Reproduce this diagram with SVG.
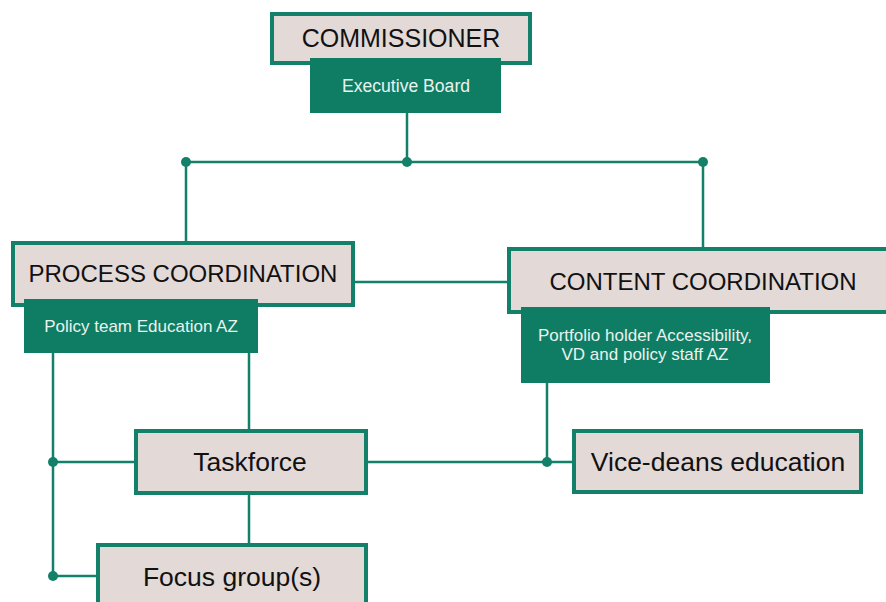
<svg xmlns="http://www.w3.org/2000/svg" width="886" height="602" viewBox="0 0 886 602">
<style>
.box{fill:#e3d9d7;stroke:#138069;stroke-width:4}
.sub{fill:#0e7d64}
.big{font-family:"Liberation Sans",Arial,sans-serif;font-size:24px;fill:#111;text-anchor:middle}
.mid{font-family:"Liberation Sans",Arial,sans-serif;font-size:26.5px;fill:#111;text-anchor:middle}
.small{font-family:"Liberation Sans",Arial,sans-serif;font-size:17px;fill:#eaf2ee;text-anchor:middle}
.ln{stroke:#138069;stroke-width:2.5;fill:none}
.dot{fill:#138069}
</style>
<rect width="886" height="602" fill="#ffffff"/>
<g id="connectors">
<path class="ln" d="M407 113V162M186 162H703M186 162V242M703 162V248"/>
<path class="ln" d="M354 282H509"/>
<path class="ln" d="M53 353V576M53 462H134M53 576H96"/>
<path class="ln" d="M249 353V429M249 495V544"/>
<path class="ln" d="M547 383V462M367 462H573"/>
<circle class="dot" cx="186" cy="162" r="5"/>
<circle class="dot" cx="407" cy="162" r="5"/>
<circle class="dot" cx="703" cy="162" r="5"/>
<circle class="dot" cx="53" cy="462" r="5"/>
<circle class="dot" cx="53" cy="576" r="5"/>
<circle class="dot" cx="547" cy="462" r="5"/>
</g>
<g id="commissioner">
<rect class="box" x="272" y="14" width="258" height="49"/>
<text class="big" x="401" y="47" style="font-size:25px">COMMISSIONER</text>
</g>
<g id="executive-board">
<rect class="sub" x="310" y="58" width="191" height="55"/>
<text class="small" x="406" y="92" style="font-size:17.6px">Executive Board</text>
</g>
<g id="process-coordination">
<rect class="box" x="13" y="243" width="340" height="62"/>
<text class="big" x="183" y="282">PROCESS COORDINATION</text>
</g>
<g id="policy-team">
<rect class="sub" x="24" y="299" width="234" height="54"/>
<text class="small" x="141" y="332">Policy team Education AZ</text>
</g>
<g id="content-coordination">
<rect class="box" x="509" y="249" width="400" height="63"/>
<text class="big" x="703" y="290">CONTENT COORDINATION</text>
</g>
<g id="portfolio-holder">
<rect class="sub" x="521" y="307" width="249" height="76"/>
<text class="small" x="645" y="341">Portfolio holder Accessibility,</text>
<text class="small" x="645" y="360">VD and policy staff AZ</text>
</g>
<g id="taskforce">
<rect class="box" x="136" y="431" width="230" height="62"/>
<text class="mid" x="250" y="471">Taskforce</text>
</g>
<g id="vice-deans">
<rect class="box" x="574" y="431" width="287" height="61"/>
<text class="mid" x="718" y="471">Vice-deans education</text>
</g>
<g id="focus-groups">
<rect class="box" x="98" y="545" width="268" height="70"/>
<text class="mid" x="232" y="586">Focus group(s)</text>
</g>
</svg>
